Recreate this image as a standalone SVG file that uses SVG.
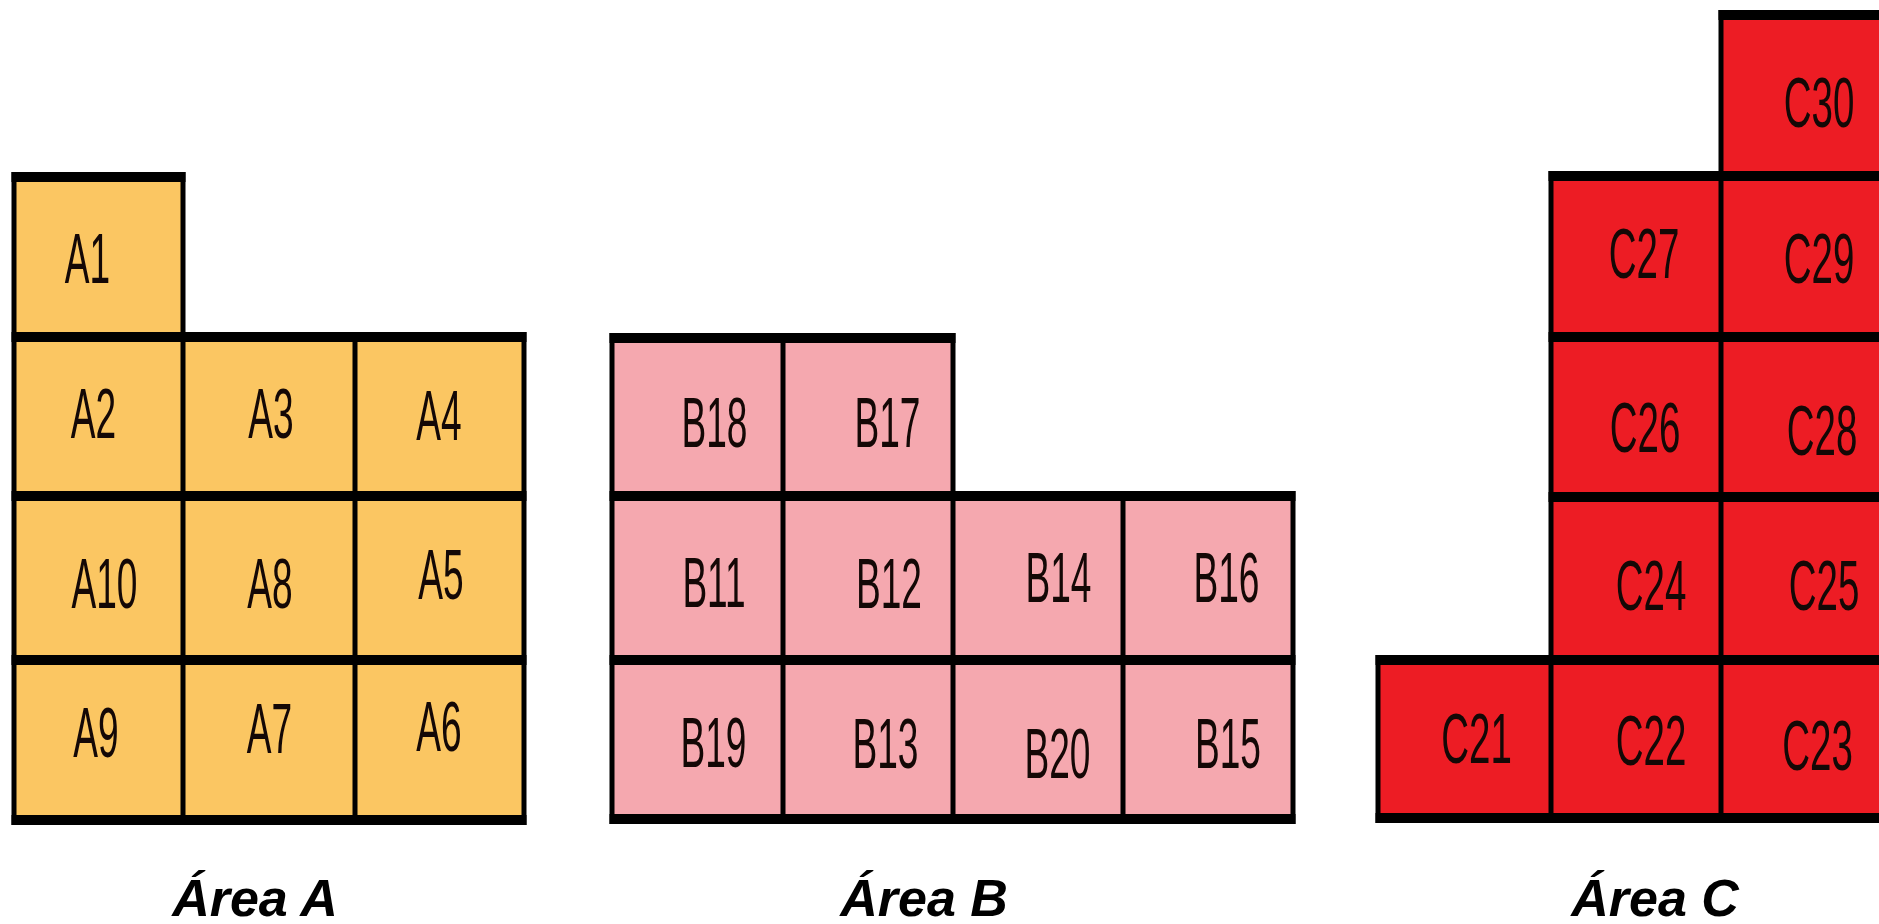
<svg xmlns="http://www.w3.org/2000/svg" width="1879" height="924" viewBox="0 0 1879 924">
<style>
.a{fill:#FBC662}
.b{fill:#F5A8AF}
.c{fill:#ED1C24}
.lbl{font-family:"Liberation Sans",Arial,sans-serif;font-size:70px;fill:#140806;text-anchor:middle}
.h{stroke:#000;stroke-width:10;fill:none}
.v{stroke:#000;stroke-width:5;fill:none}
.title{font-family:"Liberation Sans",Arial,sans-serif;font-size:52px;font-weight:bold;font-style:italic;fill:#000;text-anchor:middle}
</style>
<rect width="1879" height="924" fill="#fff"/>
<!-- Area A -->
<g id="A1"><rect class="a" x="14" y="177" width="169" height="160"/><text class="lbl" transform="translate(87.5 283) scale(0.53 1)">A1</text></g>
<g id="A2"><rect class="a" x="14" y="337" width="169" height="159"/><text class="lbl" transform="translate(93.5 438) scale(0.53 1)">A2</text></g>
<g id="A3"><rect class="a" x="183" y="337" width="172" height="159"/><text class="lbl" transform="translate(271 438) scale(0.53 1)">A3</text></g>
<g id="A4"><rect class="a" x="355" y="337" width="169" height="159"/><text class="lbl" transform="translate(439 440) scale(0.53 1)">A4</text></g>
<g id="A10"><rect class="a" x="14" y="496" width="169" height="164"/><text class="lbl" transform="translate(104.5 608) scale(0.53 1)">A10</text></g>
<g id="A8"><rect class="a" x="183" y="496" width="172" height="164"/><text class="lbl" transform="translate(270 608) scale(0.53 1)">A8</text></g>
<g id="A5"><rect class="a" x="355" y="496" width="169" height="164"/><text class="lbl" transform="translate(441 599) scale(0.53 1)">A5</text></g>
<g id="A9"><rect class="a" x="14" y="660" width="169" height="160"/><text class="lbl" transform="translate(96 757) scale(0.53 1)">A9</text></g>
<g id="A7"><rect class="a" x="183" y="660" width="172" height="160"/><text class="lbl" transform="translate(269.5 753) scale(0.53 1)">A7</text></g>
<g id="A6"><rect class="a" x="355" y="660" width="169" height="160"/><text class="lbl" transform="translate(439 751) scale(0.53 1)">A6</text></g>
<!-- Area B -->
<g id="B18"><rect class="b" x="612" y="338" width="171" height="158"/><text class="lbl" transform="translate(714.5 447) scale(0.53 1)">B18</text></g>
<g id="B17"><rect class="b" x="783" y="338" width="170" height="158"/><text class="lbl" transform="translate(887.5 447) scale(0.53 1)">B17</text></g>
<g id="B11"><rect class="b" x="612" y="496" width="171" height="164"/><text class="lbl" transform="translate(714 607) scale(0.53 1)">B11</text></g>
<g id="B12"><rect class="b" x="783" y="496" width="170" height="164"/><text class="lbl" transform="translate(889 608) scale(0.53 1)">B12</text></g>
<g id="B14"><rect class="b" x="953" y="496" width="170" height="164"/><text class="lbl" transform="translate(1058.5 602) scale(0.53 1)">B14</text></g>
<g id="B16"><rect class="b" x="1123" y="496" width="170" height="164"/><text class="lbl" transform="translate(1226.5 602) scale(0.53 1)">B16</text></g>
<g id="B19"><rect class="b" x="612" y="660" width="171" height="159"/><text class="lbl" transform="translate(713.5 767) scale(0.53 1)">B19</text></g>
<g id="B13"><rect class="b" x="783" y="660" width="170" height="159"/><text class="lbl" transform="translate(885.5 768) scale(0.53 1)">B13</text></g>
<g id="B20"><rect class="b" x="953" y="660" width="170" height="159"/><text class="lbl" transform="translate(1057.5 778) scale(0.53 1)">B20</text></g>
<g id="B15"><rect class="b" x="1123" y="660" width="170" height="159"/><text class="lbl" transform="translate(1228 768) scale(0.53 1)">B15</text></g>
<!-- Area C -->
<g id="C30"><rect class="c" x="1721" y="15" width="158" height="161"/><text class="lbl" transform="translate(1819 127) scale(0.55 1)">C30</text></g>
<g id="C27"><rect class="c" x="1551" y="176" width="170" height="161"/><text class="lbl" transform="translate(1644 278) scale(0.55 1)">C27</text></g>
<g id="C29"><rect class="c" x="1721" y="176" width="158" height="161"/><text class="lbl" transform="translate(1819 283) scale(0.55 1)">C29</text></g>
<g id="C26"><rect class="c" x="1551" y="337" width="170" height="160"/><text class="lbl" transform="translate(1645 452) scale(0.55 1)">C26</text></g>
<g id="C28"><rect class="c" x="1721" y="337" width="158" height="160"/><text class="lbl" transform="translate(1822 455) scale(0.55 1)">C28</text></g>
<g id="C24"><rect class="c" x="1551" y="497" width="170" height="163"/><text class="lbl" transform="translate(1651 610) scale(0.55 1)">C24</text></g>
<g id="C25"><rect class="c" x="1721" y="497" width="158" height="163"/><text class="lbl" transform="translate(1824 610) scale(0.55 1)">C25</text></g>
<g id="C21"><rect class="c" x="1378" y="660" width="173" height="158"/><text class="lbl" transform="translate(1476.5 763) scale(0.55 1)">C21</text></g>
<g id="C22"><rect class="c" x="1551" y="660" width="170" height="158"/><text class="lbl" transform="translate(1651 765) scale(0.55 1)">C22</text></g>
<g id="C23"><rect class="c" x="1721" y="660" width="158" height="158"/><text class="lbl" transform="translate(1817.5 770) scale(0.55 1)">C23</text></g>
<!-- grid lines -->
<g id="grid">
<path class="h" d="M11.5 177H185.5M11.5 337H526.5M11.5 496H526.5M11.5 660H526.5M11.5 820H526.5"/>
<path class="v" d="M14 172V825M183 172V825M355 332V825M524 332V825"/>
<path class="h" d="M609.5 338H955.5M609.5 496H1295.5M609.5 660H1295.5M609.5 819H1295.5"/>
<path class="v" d="M612 333V824M783 333V824M953 333V824M1123 491V824M1293 491V824"/>
<path class="h" d="M1718.5 15H1879M1548.5 176H1879M1548.5 337H1879M1548.5 497H1879M1375.5 660H1879M1375.5 818H1879"/>
<path class="v" d="M1378 655V823M1551 171V823M1721 10V823"/>
</g>
<g id="titles">
<text class="title" x="255" y="916">Área A</text>
<text class="title" x="924" y="916">Área B</text>
<text class="title" x="1655" y="916">Área C</text>
</g>
</svg>
